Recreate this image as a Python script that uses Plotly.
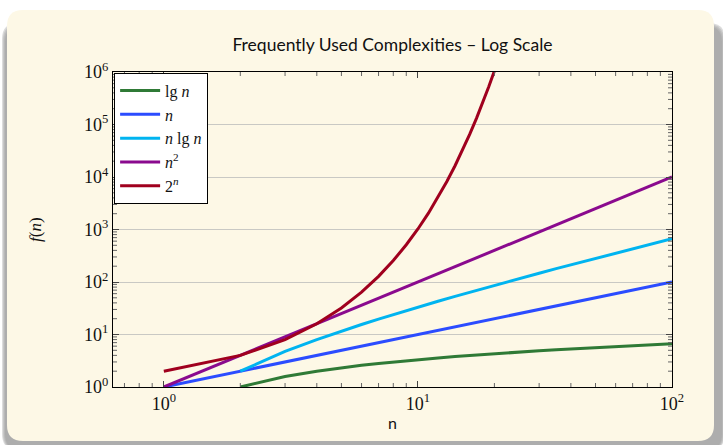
import plotly.graph_objects as go

# ---- data ----
n_vals = [1, 2, 3, 4, 5, 6, 7, 8, 9, 10, 12, 14, 16, 18, 20, 25, 30, 35, 40, 50, 60, 70, 80, 90, 100]
lg_n = [None, 1, 1.585, 2, 2.322, 2.585, 2.807, 3, 3.170, 3.322, 3.585, 3.807, 4, 4.170, 4.322,
        4.644, 4.907, 5.129, 5.322, 5.644, 5.907, 6.129, 6.322, 6.492, 6.644]
lin_n = [1, 2, 3, 4, 5, 6, 7, 8, 9, 10, 12, 14, 16, 18, 20, 25, 30, 35, 40, 50, 60, 70, 80, 90, 100]
n_lg_n = [None, 2, 4.755, 8, 11.61, 15.51, 19.65, 24, 28.53, 33.22, 43.02, 53.30, 64, 75.06, 86.44,
          116.1, 147.2, 179.5, 212.9, 282.2, 354.4, 429.0, 505.8, 584.3, 664.4]
n_sq = [1, 4, 9, 16, 25, 36, 49, 64, 81, 100, 144, 196, 256, 324, 400,
        625, 900, 1225, 1600, 2500, 3600, 4900, 6400, 8100, 10000]
exp_n_x = [1, 2, 3, 4, 5, 6, 7, 8, 9, 10, 11, 12, 13, 14, 15, 16, 17, 18, 19, 20, 21, 22]
exp_n = [2, 4, 8, 16, 32, 64, 128, 256, 512, 1024, 2048, 4096, 8192, 16384, 32768,
         65536, 131072, 262144, 524288, 1048576, 2097152, 4194304]

x_tickvals = [1, 10, 100]
x_ticktext = ["10<sup>0</sup>", "10<sup>1</sup>", "10<sup>2</sup>"]
y_tickvals = [1, 10, 100, 1e3, 1e4, 1e5, 1e6]
y_ticktext = ["10<sup>%d</sup>" % i for i in range(7)]
x_minor = [0.7, 0.8, 0.9, 2, 3, 4, 5, 6, 7, 8, 9, 20, 30, 40, 50, 60, 70, 80, 90]
y_minor = [m * 10 ** e for e in range(6) for m in (2, 3, 4, 5, 6, 7, 8, 9)]

series = [
    ("lg <i>n</i>", n_vals, lg_n, "#2f7a36"),
    ("<i>n</i>", n_vals, lin_n, "#2b4cff"),
    ("<i>n</i> lg <i>n</i>", n_vals, n_lg_n, "#00b4f0"),
    ("<i>n</i><sup>2</sup>", n_vals, n_sq, "#8a0a8e"),
    ("2<sup><i>n</i></sup>", exp_n_x, exp_n, "#a0001e"),
]

W, H = 723, 445
L, R, T, B = 113, 672, 72, 387
PW, PH = R - L, B - T


def px(x):
    return (x - L) / PW


def py(y):
    return (B - y) / PH


def rounded_path(x0, y0, x1, y1, r):
    rx, ry = r / PW, r / PH
    X0, X1 = px(x0), px(x1)
    Y0, Y1 = py(y0), py(y1)
    return (f"M {X0+rx},{Y0} L {X1-rx},{Y0} Q {X1},{Y0} {X1},{Y0-ry} "
            f"L {X1},{Y1+ry} Q {X1},{Y1} {X1-rx},{Y1} "
            f"L {X0+rx},{Y1} Q {X0},{Y1} {X0},{Y1+ry} "
            f"L {X0},{Y0-ry} Q {X0},{Y0} {X0+rx},{Y0} Z")


fig = go.Figure()
for i, (name, xs, ys, col) in enumerate(series):
    fig.add_trace(go.Scatter(x=xs, y=ys, mode="lines", name=name,
                             line=dict(color=col, width=3)))

shapes = []
for i, a in enumerate([0.10, 0.12, 0.15, 0.2]):
    d = 4 - i
    shapes.append(dict(type="path", xref="paper", yref="paper", layer="below",
                       path=rounded_path(1 + d, 22 + d, 723 - d + 3, 445 + 5, 16),
                       fillcolor=f"rgba(80,80,80,{a})", line=dict(width=0)))
shapes.append(dict(type="path", xref="paper", yref="paper", layer="below",
                   path=rounded_path(7, 10, 714, 441, 16),
                   fillcolor="#fdf8e6", line=dict(width=0)))

# minor ticks (inside, on all four sides)
MT = 4
tick_line = dict(color="#666", width=1)
for v in x_minor:
    shapes.append(dict(type="line", xref="x", yref="paper", x0=v, x1=v, y0=0, y1=MT / PH,
                       line=tick_line, layer="above"))
    shapes.append(dict(type="line", xref="x", yref="paper", x0=v, x1=v, y0=1, y1=1 - MT / PH,
                       line=tick_line, layer="above"))
for v in y_minor:
    shapes.append(dict(type="line", xref="paper", yref="y", y0=v, y1=v, x0=0, x1=MT / PW,
                       line=tick_line, layer="above"))
    shapes.append(dict(type="line", xref="paper", yref="y", y0=v, y1=v, x0=1, x1=1 - MT / PW,
                       line=tick_line, layer="above"))

annotations = [
    dict(text="<i>f</i>(<i>n</i>)", xref="paper", yref="paper", x=px(35), y=py(230),
         showarrow=False, textangle=-90, font=dict(family="Liberation Serif", size=17, color="#111"),
         xanchor="center", yanchor="middle"),
    dict(text="n", xref="paper", yref="paper", x=px(392), y=py(422),
         showarrow=False, font=dict(family="Lato", size=16, color="#111"),
         xanchor="center", yanchor="middle"),
]

fig.update_layout(
    width=W, height=H,
    margin=dict(l=L, r=W - R, t=T, b=H - B, autoexpand=False),
    paper_bgcolor="white",
    plot_bgcolor="rgba(0,0,0,0)",
    shapes=shapes,
    annotations=annotations,
    title=dict(text="Frequently Used Complexities – Log Scale", x=0.5, xref="paper",
               y=1 - 45 / H, yanchor="middle",
               font=dict(family="Lato", size=17.5, color="#111")),
    font=dict(family="Liberation Serif", size=15, color="#111"),
    showlegend=True,
    legend=dict(x=0.002, y=0.998, xanchor="left", yanchor="top",
                bgcolor="white", bordercolor="black", borderwidth=1,
                font=dict(family="Liberation Serif", size=16, color="#111"),
                itemwidth=40),
    xaxis=dict(type="log", range=[-0.2, 2], tickvals=x_tickvals, ticktext=x_ticktext,
               showgrid=False, zeroline=False, showline=True, linecolor="black", linewidth=1.2,
               mirror="allticks", ticks="inside", ticklen=6, tickcolor="#444", tickwidth=1,
               tickfont=dict(family="Liberation Serif", size=18)),
    yaxis=dict(type="log", range=[0, 6], tickvals=y_tickvals, ticktext=y_ticktext,
               showgrid=True, gridcolor="#c9c9c4", gridwidth=1.2, zeroline=False,
               showline=True, linecolor="black", linewidth=1.2,
               mirror="allticks", ticks="inside", ticklen=6, tickcolor="#444", tickwidth=1,
               tickfont=dict(family="Liberation Serif", size=18)),
)

fig.write_html("out.html", config={"displayModeBar": False},
               post_script="document.body.style.margin='0px';document.body.style.overflow='hidden';")
